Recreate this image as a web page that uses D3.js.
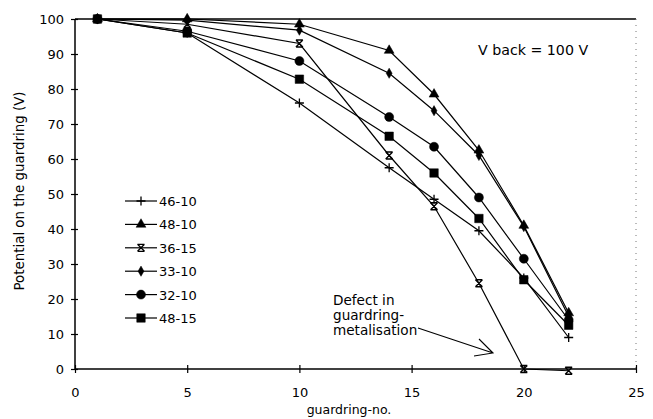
<!DOCTYPE html>
<html><head><meta charset="utf-8">
<script src="https://cdn.jsdelivr.net/npm/d3@7"></script>
<style>
body{margin:0;background:#fff;}
svg{display:block;font-family:"DejaVu Sans",Arial,sans-serif;}
</style></head>
<body><svg id="c" width="653" height="419"></svg>
<script>
const guardrings = [1, 5, 10, 14, 16, 18, 20, 22];
const s46_10 = [100, 96, 76, 57.5, 48.5, 39.5, 26, 9];
const s48_10 = [100, 100, 98.5, 91, 78.5, 62.5, 41, 16];
const s36_15 = [100, 98.5, 93, 61, 46.5, 24.5, 0, -0.5];
const s33_10 = [100, 99.7, 96.8, 84.5, 73.8, 61, 40.7, 15];
const s32_10 = [100, 96.5, 88, 72, 63.5, 49, 31.5, 14];
const s48_15 = [100, 96, 82.8, 66.5, 56, 43, 25.5, 12.5];
const seriesNames = ["46-10", "48-10", "36-15", "33-10", "32-10", "48-15"];
const seriesValues = [s46_10, s48_10, s36_15, s33_10, s32_10, s48_15];
const markerTypes = ["plus", "triangle", "star", "diamond", "circle", "square"];
const xTicks = [0, 5, 10, 15, 20, 25];
const yTicks = [0, 10, 20, 30, 40, 50, 60, 70, 80, 90, 100];

const FONT = "DejaVu Sans, Arial, sans-serif";
const svg = d3.select("#c");
const x = d3.scaleLinear().domain([0, 25]).range([75, 636]);
const y = d3.scaleLinear().domain([0, 100]).range([369, 19]);

function markerPath(t) {
  switch (t) {
    case "plus": return "M-4.5,0H4.5M0,-4.5V4.5";
    case "star": return "M-3.5,-3.5L3.5,3.5M-3.5,3.5L3.5,-3.5M-3.5,-3.5H3.5M-3.5,3.5H3.5";
    case "triangle": return d3.symbol(d3.symbolTriangle, 42)();
    case "diamond": return d3.symbol(d3.symbolDiamond, 30)();
    case "circle": return d3.symbol(d3.symbolCircle, 64)();
    case "square": return d3.symbol(d3.symbolSquare, 72)();
  }
}
function drawMarker(g, t, cx, cy) {
  const filled = !(t === "plus" || t === "star");
  g.append("path").attr("d", markerPath(t))
    .attr("transform", `translate(${cx},${cy})`)
    .attr("fill", filled ? "#000" : "none")
    .attr("stroke", "#000").attr("stroke-width", filled ? 0.5 : 1.3);
}

// frame: top line, dotted right line
svg.append("line").attr("x1", x(0)).attr("x2", x(25)).attr("y1", y(100)).attr("y2", y(100))
  .attr("stroke", "#000").attr("stroke-width", 1.3);
svg.append("line").attr("x1", x(25)).attr("x2", x(25)).attr("y1", y(100)).attr("y2", y(0))
  .attr("stroke", "#777").attr("stroke-width", 1).attr("stroke-dasharray", "1,5");

// axes
const xAxis = svg.append("g").attr("transform", `translate(0,${y(0)})`)
  .call(d3.axisBottom(x).tickValues(xTicks).tickSize(5).tickPadding(14));
xAxis.selectAll(".tick line").attr("y1", -4).attr("y2", 4);
const yAxis = svg.append("g").attr("transform", `translate(${x(0)},0)`)
  .call(d3.axisLeft(y).tickValues(yTicks).tickSize(4).tickPadding(7));
yAxis.selectAll(".tick line").attr("x1", -4).attr("x2", 3);
[xAxis, yAxis].forEach(a => {
  a.select(".domain").attr("stroke-width", 1.5);
  a.selectAll(".tick line").attr("stroke-width", 1.2);
  a.selectAll("text").attr("font-size", 13).attr("fill", "#000")
    .attr("font-family", FONT);
});
xAxis.select(".domain").attr("d", `M${x(0)},0H${x(25)}`);
yAxis.select(".domain").attr("d", `M0,${y(0)}V${y(100)}`);

// axis titles
svg.append("text").attr("x", 349).attr("y", 414).attr("text-anchor", "middle")
  .attr("font-size", 12.5).text("guardring-no.");
svg.append("text").attr("transform", "translate(24,191) rotate(-90)").attr("text-anchor", "middle")
  .attr("font-size", 13.4).text("Potential on the guardring (V)");

// series
const line = d3.line().x((d, i) => x(guardrings[i])).y(d => y(d));
const plot = svg.append("g");
seriesValues.forEach((vals, k) => {
  plot.append("path").attr("d", line(vals)).attr("fill", "none")
    .attr("stroke", "#000").attr("stroke-width", 1.2);
});
seriesValues.forEach((vals, k) => {
  vals.forEach((v, i) => drawMarker(plot, markerTypes[k], x(guardrings[i]), y(v)));
});

// legend
const lg = svg.append("g");
seriesNames.forEach((n, k) => {
  const ly = 201 + k * 23.4;
  lg.append("line").attr("x1", 125).attr("x2", 157).attr("y1", ly).attr("y2", ly)
    .attr("stroke", "#000").attr("stroke-width", 1.2);
  drawMarker(lg, markerTypes[k], 141, ly);
  lg.append("text").attr("x", 159).attr("y", ly + 5).attr("font-size", 13).text(n);
});

// annotations
svg.append("text").attr("x", 478).attr("y", 55).attr("font-size", 14.2).text("V back = 100 V");
const ann = svg.append("text").attr("font-size", 13.6);
["Defect in", "guardring-", "metalisation"].forEach((t, i) => {
  ann.append("tspan").attr("x", 333).attr("y", 305 + i * 15).text(t);
});
svg.append("path").attr("d", "M418,328L493,353M479,339L493,353L474,356")
  .attr("fill", "none").attr("stroke", "#000").attr("stroke-width", 1.1);
</script></body></html>
